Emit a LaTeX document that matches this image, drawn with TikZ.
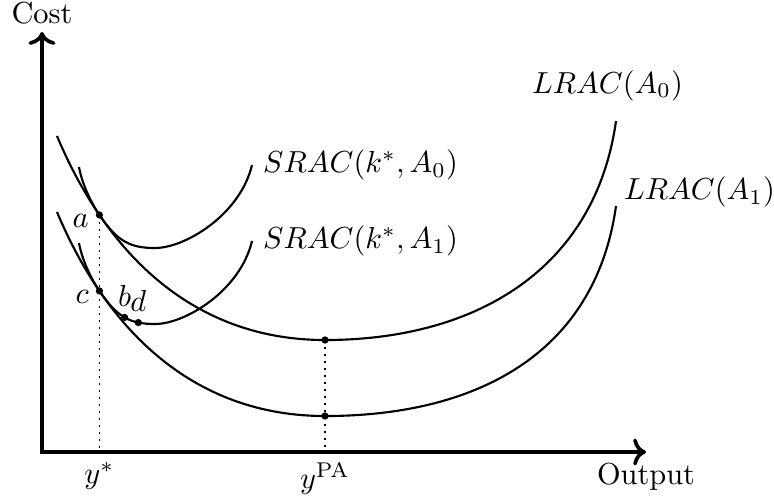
\documentclass[tikz,border=0pt]{standalone}
\usetikzlibrary{arrows.meta, positioning}

\begin{document}
\begin{tikzpicture}[x=0.329pt, y=-0.329pt,
      axis/.style={very thick, <->},
      cost/.style={line width=0.7pt},
      guide/.style={line width=0.6pt, dash pattern=on 0.6pt off 1.7pt}]
  \useasboundingbox (0,0) rectangle (774,499);
  \coordinate (o) at (42,452);
  \coordinate (xtip) at (646,452);
  \coordinate (ytip) at (42,32);
  \draw[axis] (ytip) -- (o) -- (xtip);
  \node[above, inner sep=2.3pt] (costlab) at (ytip) {Cost};
  \node[below] (outlab) at (xtip) {Output};

  % long-run average cost
  \draw[cost] (57,136) .. controls (110,262) and (200,340) .. (325,340)
      coordinate[pos=0.23] (a) coordinate (m0)
      .. controls (475,340) and (595,270) .. (616,121)
      node[above=2.9pt, xshift=-2.8pt] (l0lab) {$LRAC(A_0)$};
  \draw[cost] (57,212) .. controls (110,338) and (200,416) .. (325,416)
      coordinate[pos=0.23] (c) coordinate (m1)
      .. controls (475,416) and (595,355) .. (616,206)
      node[anchor=base west, xshift=-1pt, yshift=2.1pt] (l1lab) {$LRAC(A_1)$};

  % short-run average cost, tangent at a and c
  \draw[cost] (79,167) .. controls +(3,17) and +(-8,-11.7) .. (a)
      .. controls +(18,26.4) and +(-25,0) .. (155,248)
      .. controls +(30,0) and +(-12,50) .. (252,165)
      node[right] (s0lab) {$SRAC(k^*,A_0)$};
  \draw[cost] (79,243) .. controls +(3,17) and +(-8,-11.7) .. (c)
      .. controls +(18,26.4) and +(-25,0) .. (155,324)
      coordinate[pos=0.5] (b) coordinate[pos=0.75] (d)
      .. controls +(30,0) and +(-12,50) .. (252,241)
      node[right] (s1lab) {$SRAC(k^*,A_1)$};

  \coordinate (ystar) at (a |- o);
  \coordinate (ypa) at (m0 |- o);
  \draw[guide] (a) -- (ystar);
  \draw[guide] (m0) -- (ypa);
  \foreach \p in {a,b,c,d,m0,m1}
    \fill (\p) circle (1.2pt);

  \node[below] (ystarlab) at (ystar) {$y^*$};
  \node[below] (ypalab) at (ypa) {$y^{\mathrm{PA}}$};
  \node[left, yshift=-2pt] (alab) at (a) {$a$};
  \node[left, yshift=-2pt] (clab) at (c) {$c$};
  \node[above] (blab) at (b) {$b$};
  \node[above] (dlab) at (d) {$d$};
\end{tikzpicture}
\end{document}
